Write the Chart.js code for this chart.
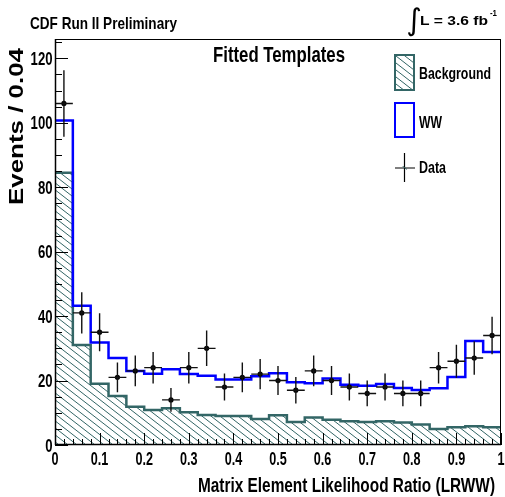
<!DOCTYPE html>
<html>
<head>
<meta charset="utf-8">
<script src="https://cdn.jsdelivr.net/npm/chart.js@4.4.1/dist/chart.umd.min.js"></script>
<style>
  html, body { margin: 0; padding: 0; background: #fff; }
  #plot { display: block; }
</style>
</head>
<body>
<canvas id="plot" width="505" height="497"></canvas>
<script>
// bin edges of LRWW, 25 bins of 0.04
const binEdges = [0, 0.04, 0.08, 0.12, 0.16, 0.2, 0.24, 0.28, 0.32, 0.36, 0.4, 0.44, 0.48,
    0.52, 0.56, 0.6, 0.64, 0.68, 0.72, 0.76, 0.8, 0.84, 0.88, 0.92, 0.96, 1.0];
const binCenters = [0.02, 0.06, 0.1, 0.14, 0.18, 0.22, 0.26, 0.3, 0.34, 0.38, 0.42, 0.46, 0.5,
    0.54, 0.58, 0.62, 0.66, 0.7, 0.74, 0.78, 0.82, 0.86, 0.9, 0.94, 0.98];

// fitted templates
const background = [84.5, 31, 19, 15.2, 11.9, 10.9, 11.4, 10.2, 9.3, 9.0, 9.0, 8.1, 9.2,
    7.1, 8.5, 7.8, 7.4, 7.1, 7.4, 7.0, 6.4, 5.0, 5.5, 5.8, 5.5];
const wwStacked = [100.7, 43.2, 31.8, 27.0, 23.0, 22.1, 23.5, 22.0, 21.5, 20.3, 20.3, 21.3, 22.3,
    19.5, 19.2, 20.6, 18.7, 18.4, 18.9, 17.7, 17.1, 17.6, 21.1, 32.3, 28.9];

// data
const dataCounts = [106, 41, 35, 21, 23, 24, 14, 24, 30, 18, 21, 22, 20,
    17, 23, 20, 18, 16, 18, 16, 16, 24, 26, 27, 34];
const dataErrors = [10.3, 6.4, 5.9, 4.6, 4.8, 4.9, 3.7, 4.9, 5.5, 4.2, 4.6, 4.7, 4.5,
    4.1, 4.8, 4.5, 4.2, 4.0, 4.2, 4.0, 4.0, 4.9, 5.1, 5.2, 5.8];

// axes
const xTickValues = [0, 0.1, 0.2, 0.3, 0.4, 0.5, 0.6, 0.7, 0.8, 0.9, 1];
const xTickLabels = ['0', '0.1', '0.2', '0.3', '0.4', '0.5', '0.6', '0.7', '0.8', '0.9', '1'];
const yTickValues = [0, 20, 40, 60, 80, 100, 120];
const yTickLabels = ['0', '20', '40', '60', '80', '100', '120'];

const TEAL = '#336666';
const BLUE = '#0000ff';
const FONT = '"Liberation Sans", Arial, Helvetica, sans-serif';

function makeHatch() {
    const w = 9, h = 7;
    const c = document.createElement('canvas');
    c.width = w;
    c.height = h;
    const g = c.getContext('2d');
    g.strokeStyle = TEAL;
    g.lineWidth = 1;
    g.beginPath();
    g.moveTo(-w, -h); g.lineTo(2 * w, 2 * h);
    g.moveTo(-2 * w, -h); g.lineTo(w, 2 * h);
    g.moveTo(0, -h); g.lineTo(3 * w, 2 * h);
    g.stroke();
    return g.createPattern(c, 'repeat');
}
const hatch = makeHatch();

function stepPoints(values) {
    return binEdges.map((x, i) => ({ x: x, y: values[Math.min(i, values.length - 1)] }));
}

// text with a horizontal squeeze, like the narrow ROOT font
function drawText(ctx, text, x, y, size, opts) {
    opts = opts || {};
    ctx.save();
    ctx.font = 'bold ' + size + 'px ' + FONT;
    ctx.fillStyle = '#000';
    ctx.textBaseline = 'alphabetic';
    ctx.textAlign = opts.align || 'left';
    let sx = opts.sx || 1;
    if (opts.width) sx = opts.width / ctx.measureText(text).width;
    ctx.translate(x, y);
    if (opts.rotate) ctx.rotate(opts.rotate);
    ctx.scale(sx, 1);
    ctx.fillText(text, 0, 0);
    ctx.restore();
}

const decorations = {
    id: 'decorations',
    afterDatasetsDraw(chart) {
        const ctx = chart.ctx;
        const xs = chart.scales.x, ys = chart.scales.y;

        // error bars on data
        ctx.save();
        ctx.strokeStyle = '#111';
        ctx.lineWidth = 1.4;
        ctx.beginPath();
        binCenters.forEach((c, i) => {
            const px = xs.getPixelForValue(c);
            const py = ys.getPixelForValue(dataCounts[i]);
            ctx.moveTo(px, ys.getPixelForValue(dataCounts[i] - dataErrors[i]));
            ctx.lineTo(px, ys.getPixelForValue(dataCounts[i] + dataErrors[i]));
            ctx.moveTo(xs.getPixelForValue(c - 0.02), py);
            ctx.lineTo(xs.getPixelForValue(c + 0.02), py);
        });
        ctx.stroke();
        ctx.restore();
    },
    afterDraw(chart) {
        const ctx = chart.ctx;
        const xs = chart.scales.x, ys = chart.scales.y;
        const a = chart.chartArea;

        // frame
        ctx.save();
        ctx.strokeStyle = '#000';
        ctx.lineWidth = 1;
        ctx.strokeRect(Math.round(a.left) + 0.5, Math.round(a.top) + 0.5,
            Math.round(a.right - a.left) - 1, Math.round(a.bottom - a.top) - 1);
        ctx.lineWidth = 1.5;
        ctx.beginPath();
        ctx.moveTo(a.left + 0.5, a.top); ctx.lineTo(a.left + 0.5, a.bottom);
        ctx.moveTo(a.left, a.bottom - 0.5); ctx.lineTo(a.right, a.bottom - 0.5);
        ctx.stroke();

        // ticks pointing inward
        ctx.lineWidth = 1;
        ctx.beginPath();
        for (let v = 0; v <= 125; v += 5) {
            const py = Math.round(ys.getPixelForValue(v)) + 0.5;
            const len = v % 20 === 0 ? 13 : 7;
            ctx.moveTo(a.left, py); ctx.lineTo(a.left + len, py);
        }
        for (let k = 0; k <= 50; k++) {
            const px = Math.round(xs.getPixelForValue(k * 0.02)) + 0.5;
            const len = k % 5 === 0 ? 12 : 6;
            ctx.moveTo(px, a.bottom); ctx.lineTo(px, a.bottom - len);
        }
        ctx.stroke();
        ctx.restore();

        // tick labels
        yTickValues.forEach((v, i) => {
            drawText(ctx, yTickLabels[i], a.left - 2.5, ys.getPixelForValue(v) + 6.5, 18, { align: 'right', sx: 0.73 });
        });
        xTickValues.forEach((v, i) => {
            drawText(ctx, xTickLabels[i], xs.getPixelForValue(v), 465, 18, { align: 'center', sx: 0.7 });
        });

        // axis titles
        drawText(ctx, 'Matrix Element Likelihood Ratio (LRWW)', 495, 492, 21, { align: 'right', width: 297 });
        drawText(ctx, 'Events / 0.04', 23, 205, 21, { rotate: -Math.PI / 2, width: 157 });

        // header texts
        drawText(ctx, 'CDF Run II Preliminary', 30, 29, 17, { width: 147 });
        drawText(ctx, 'Fitted Templates', 213, 62.3, 22, { width: 132 });
        ctx.save();
        ctx.font = '30px "DejaVu Sans", sans-serif';
        ctx.fillStyle = '#000';
        ctx.textAlign = 'center';
        ctx.fillText('\u222B', 414, 30);
        ctx.restore();
        drawText(ctx, 'L = 3.6 fb', 420, 25, 13, { width: 68 });
        drawText(ctx, '-1', 490, 16, 9, { width: 7 });

        // legend
        ctx.save();
        ctx.fillStyle = hatch;
        ctx.fillRect(395, 55, 19, 35);
        ctx.strokeStyle = TEAL;
        ctx.lineWidth = 2;
        ctx.strokeRect(395, 55, 19, 35);
        ctx.strokeStyle = BLUE;
        ctx.strokeRect(395, 103, 19, 34);
        ctx.strokeStyle = '#000';
        ctx.lineWidth = 1.2;
        ctx.beginPath();
        ctx.moveTo(404.5, 153); ctx.lineTo(404.5, 182);
        ctx.moveTo(395, 168); ctx.lineTo(415, 168);
        ctx.stroke();
        ctx.beginPath();
        ctx.arc(404.5, 168, 2.6, 0, Math.PI * 2);
        ctx.fill();
        ctx.restore();
        drawText(ctx, 'Background', 419, 79, 16, { width: 72 });
        drawText(ctx, 'WW', 419, 128, 16, { width: 23 });
        drawText(ctx, 'Data', 419, 173, 16, { width: 27 });
    }
};

new Chart(document.getElementById('plot'), {
    type: 'line',
    data: {
        datasets: [
            {
                label: 'Data',
                type: 'scatter',
                data: binCenters.map((c, i) => ({ x: c, y: dataCounts[i] })),
                pointRadius: 2.6,
                pointBackgroundColor: '#000',
                pointBorderWidth: 0,
                showLine: false,
                order: 0
            },
            {
                label: 'WW',
                data: stepPoints(wwStacked),
                stepped: true,
                borderColor: BLUE,
                borderWidth: 2.5,
                pointRadius: 0,
                fill: false,
                order: 1
            },
            {
                label: 'Background',
                data: stepPoints(background),
                stepped: true,
                borderColor: TEAL,
                borderWidth: 2.5,
                backgroundColor: hatch,
                pointRadius: 0,
                fill: 'origin',
                order: 2
            }
        ]
    },
    options: {
        responsive: false,
        animation: false,
        events: [],
        layout: { padding: { top: 39, right: 2.5, left: 0, bottom: 0 } },
        plugins: { legend: { display: false }, tooltip: { enabled: false } },
        scales: {
            x: {
                type: 'linear',
                min: 0,
                max: 1,
                ticks: { display: false },
                grid: { display: false },
                border: { display: false },
                afterFit: s => { s.height = 52; }
            },
            y: {
                min: 0,
                max: 126,
                ticks: { display: false },
                grid: { display: false },
                border: { display: false },
                afterFit: s => { s.width = 55; }
            }
        }
    },
    plugins: [decorations]
});
</script>
</body>
</html>
